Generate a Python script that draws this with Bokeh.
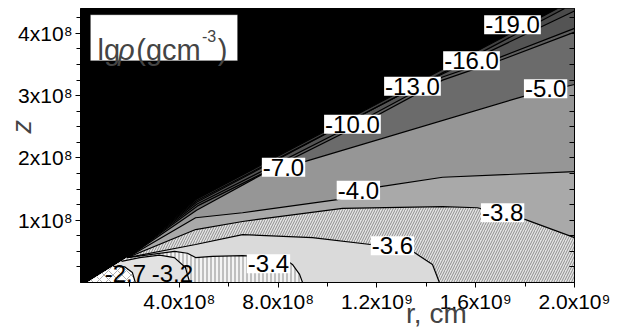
import math
from bokeh.plotting import figure
from bokeh.models import Range1d, FixedTicker, LinearAxis, Label, BoxAnnotation
from bokeh.embed import file_html
from bokeh.resources import INLINE

# all lengths in units of 1e8 cm
x_ticks = [4, 8, 12, 16, 20]
x_minor = [2, 6, 10, 14, 18]
x_tick_labels = ["4.0x10⁸", "8.0x10⁸", "1.2x10⁹", "1.6x10⁹", "2.0x10⁹"]
y_ticks = [1, 2, 3, 4]
y_minor = [0.25, 0.5, 0.75, 1.25, 1.5, 1.75, 2.25, 2.5, 2.75, 3.25, 3.5, 3.75, 4.25]
y_tick_labels = ["1x10⁸", "2x10⁸", "3x10⁸", "4x10⁸"]

# edge of the computed region (disk surface near the midplane)
surf_r = [0.28, 1.90]
surf_z = [0.00, 0.40]

# contour lines of lg(rho)
c19_r = [1.90, 4.66, 19.31]
c19_z = [0.40, 1.33, 4.40]
c16_r = [1.90, 4.68, 14.00, 19.60]
c16_z = [0.40, 1.31, 3.23, 4.40]
c13_r = [1.90, 4.70, 13.44, 20.00]
c13_z = [0.40, 1.29, 3.12, 4.36]
c10_r = [1.90, 4.72, 11.00, 14.66, 17.00, 20.00]
c10_z = [0.40, 1.26, 2.52, 3.30, 3.62, 4.08]
c7_r = [1.90, 4.74, 11.00, 14.66, 17.00, 20.00]
c7_z = [0.40, 1.23, 2.47, 3.25, 3.57, 4.02]
c5_r = [1.90, 4.70, 7.37, 9.31, 17.94, 20.00]
c5_z = [0.40, 1.16, 1.74, 1.97, 2.99, 3.18]
c4_r = [1.90, 4.66, 6.56, 10.40, 12.15, 14.66, 20.00]
c4_z = [0.40, 1.04, 1.12, 1.33, 1.54, 1.69, 1.78]
c38_r = [1.90, 4.66, 6.56, 10.61, 14.66, 16.07, 18.02, 20.00]
c38_z = [0.40, 0.85, 0.98, 1.19, 1.22, 1.20, 1.01, 0.72]
c36_r = [1.90, 4.66, 6.56, 9.39, 11.74, 13.52, 14.25, 14.53]
c36_z = [0.40, 0.61, 0.77, 0.72, 0.61, 0.48, 0.29, 0.00]
c34_r = [1.90, 3.81, 4.33, 4.66, 5.34, 6.56, 8.18, 8.58, 8.87, 8.99]
c34_z = [0.40, 0.50, 0.47, 0.40, 0.42, 0.43, 0.40, 0.29, 0.13, 0.00]
c32_r = [1.66, 2.40, 3.20, 3.80, 4.25, 4.42]
c32_z = [0.34, 0.40, 0.44, 0.40, 0.24, 0.00]
c27_r = [1.33, 1.80, 2.10, 2.22]
c27_z = [0.26, 0.25, 0.16, 0.00]

levels = [-19.0, -16.0, -13.0, -10.0, -7.0, -5.0, -4.0, -3.8, -3.6, -3.4, -3.2, -2.7]
contours = [(c19_r, c19_z), (c16_r, c16_z), (c13_r, c13_z), (c10_r, c10_z),
            (c7_r, c7_z), (c5_r, c5_z), (c4_r, c4_z), (c38_r, c38_z),
            (c36_r, c36_z), (c34_r, c34_z), (c32_r, c32_z), (c27_r, c27_z)]

R_MAX, Z_MAX = 20.0, 4.4

# fill style of the band just denser than each level
fills = [
    dict(fill_color="#404040"),
    dict(fill_color="#4a4a4a"),
    dict(fill_color="#545454"),
    dict(fill_color="#5e5e5e"),
    dict(fill_color="#6b6b6b"),
    dict(fill_color="#969696"),
    dict(fill_color="#a9a9a9"),
    dict(fill_color="#e4e4e4", hatch_pattern="/", hatch_color="#8c8c8c", hatch_scale=5, hatch_weight=1),
    dict(fill_color="#dadada"),
    dict(fill_color="#f4f4f4", hatch_pattern="|", hatch_color="#8a8a8a", hatch_scale=4, hatch_weight=1),
    dict(fill_color="#e2e2e2"),
    dict(fill_color="#ffffff", hatch_pattern="x", hatch_color="#b0b0b0", hatch_scale=9, hatch_weight=1),
]

p = figure(frame_width=494, frame_height=274, output_backend="svg", toolbar_location=None,
           x_range=Range1d(0, R_MAX), y_range=Range1d(0, Z_MAX),
           min_border_left=80, min_border_right=40, min_border_top=8, min_border_bottom=38,
           background_fill_color="black", border_fill_color="white", outline_line_color="black")
p.xgrid.visible = False
p.ygrid.visible = False

for (cr, cz), st in zip(contours, fills):
    pr = [surf_r[0]] + list(cr)
    pz = [surf_z[0]] + list(cz)
    if cz[-1] > 0:
        if cr[-1] < R_MAX:
            pr.append(R_MAX); pz.append(Z_MAX)
        pr.append(R_MAX); pz.append(0.0)
    p.patch(pr, pz, line_color=None, **st)

for cr, cz in contours:
    p.line(cr, cz, line_color="black", line_width=1.2)

FONT = "Liberation Sans"
# contour labels: (text, r, z, boxed)
clabels = [("-19.0", 17.49, 4.14, True), ("-16.0", 15.83, 3.56, True),
           ("-13.0", 13.44, 3.15, True), ("-10.0", 11.01, 2.54, True),
           ("-7.0", 8.22, 1.85, True), ("-5.0", 18.83, 3.11, True),
           ("-4.0", 11.25, 1.48, True), ("-3.8", 17.09, 1.12, True),
           ("-3.6", 12.63, 0.59, True), ("-3.4", 7.61, 0.30, True),
           ("-3.2", 3.72, 0.14, False), ("-2.7", 1.82, 0.14, False)]
for t, r, z, boxed in clabels:
    lab = Label(x=r, y=z, text=t, text_font=FONT, text_font_size="24px", text_color="black",
                text_align="center", text_baseline="middle")
    if boxed:
        lab.background_fill_color = "white"
        lab.padding = 1
    p.add_layout(lab)

# title box
p.add_layout(BoxAnnotation(left=0.40, right=6.36, bottom=3.56, top=4.30,
                           fill_color="white", fill_alpha=1.0, line_color="black", line_width=1))
for t, r, z, size, style in [("lg", 0.69, 3.74, "29px", "normal"),
                             ("ρ", 1.52, 3.74, "29px", "italic"),
                             ("(gcm", 2.26, 3.74, "29px", "normal"),
                             ("-3", 4.92, 3.96, "16px", "normal"),
                             (")", 5.56, 3.74, "29px", "normal")]:
    p.add_layout(Label(x=r, y=z, text=t, text_font=FONT, text_font_size=size,
                       text_font_style=style, text_align="left", text_baseline="alphabetic"))

# axes
for ax in (p.xaxis[0], p.yaxis[0]):
    ax.axis_line_color = "black"
    ax.major_tick_line_color = "black"
    ax.minor_tick_line_color = "black"
    ax.major_tick_in = 0
    ax.major_tick_out = 5
    ax.minor_tick_in = 0
    ax.minor_tick_out = 4
    ax.major_label_text_font = FONT
    ax.major_label_text_font_size = "21px"
    ax.major_label_text_color = "black"
NB = "\u00a0"
xa = p.xaxis[0]
xa.ticker = FixedTicker(ticks=x_ticks, minor_ticks=x_minor)
xa.major_label_overrides = dict(zip(x_ticks, x_tick_labels))
xa.major_label_standoff = 2
xa.axis_label = NB * 28 + "r, cm"
xa.axis_label_text_font = FONT
xa.axis_label_text_font_size = "28px"
xa.axis_label_text_font_style = "normal"
xa.axis_label_standoff = -18

ya = p.yaxis[0]
ya.ticker = FixedTicker(ticks=y_ticks, minor_ticks=y_minor)
ya.major_label_overrides = dict(zip(y_ticks, y_tick_labels))
ya.major_label_orientation = "horizontal"
ya.major_label_standoff = 3
ya.axis_label = NB * 5 + "z"
ya.axis_label_text_font = FONT
ya.axis_label_text_font_size = "27px"
ya.axis_label_text_font_style = "italic"
ya.axis_label_standoff = -22

right = LinearAxis(ticker=FixedTicker(ticks=[], minor_ticks=sorted(y_minor + y_ticks)),
                   axis_line_color="black", minor_tick_line_color="black",
                   major_tick_in=0, major_tick_out=0, minor_tick_in=5, minor_tick_out=0)
p.add_layout(right, "right")

open("out.html", "w").write(file_html(p, INLINE))
